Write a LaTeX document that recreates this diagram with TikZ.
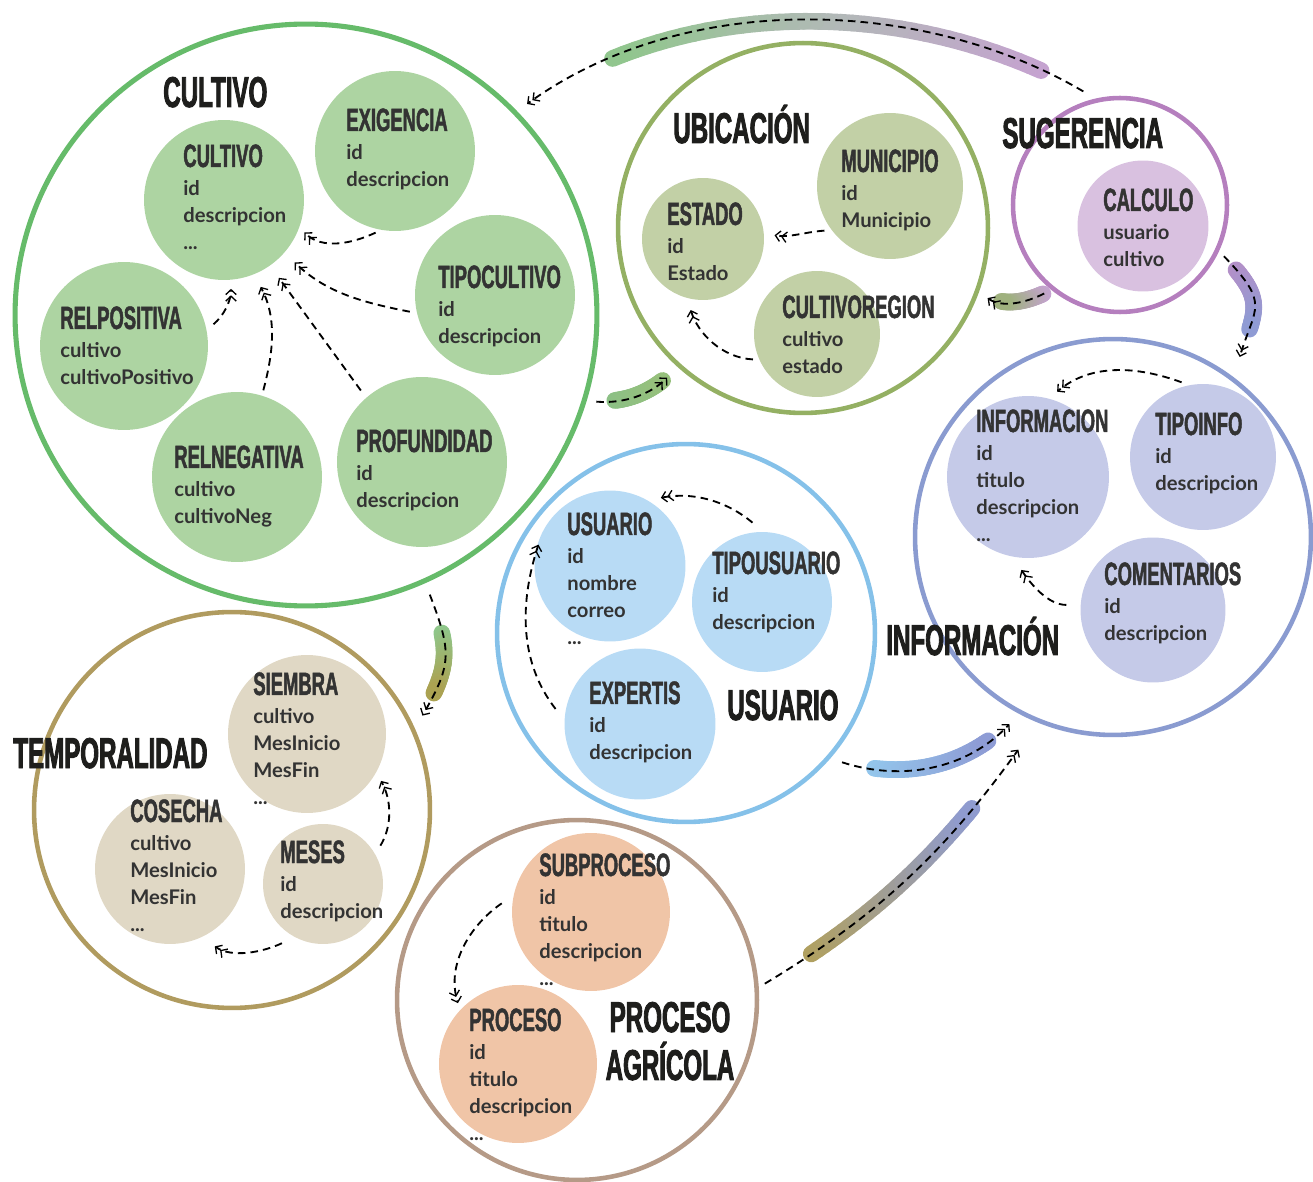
\documentclass[tikz,border=0pt]{standalone}
\usepackage{fontspec}
\setmainfont{Lato}
\newfontfamily\condf{Liberation Sans}[FakeStretch=0.57,FakeBold=1.4]
\newfontfamily\condt{Liberation Sans}[FakeStretch=0.56,FakeBold=2]
\usetikzlibrary{arrows.meta,decorations.markings}
\definecolor{cCul}{HTML}{66BB6A}\definecolor{fCul}{HTML}{ADD4A2}
\definecolor{cUbi}{HTML}{94B063}\definecolor{fUbi}{HTML}{C2D0A6}
\definecolor{cSug}{HTML}{B57FBE}\definecolor{fSug}{HTML}{D9C1E0}
\definecolor{cInf}{HTML}{8A9BD0}\definecolor{fInf}{HTML}{C5CAE8}
\definecolor{cUsu}{HTML}{85C1E9}\definecolor{fUsu}{HTML}{B8DBF5}
\definecolor{cTem}{HTML}{B09B5F}\definecolor{fTem}{HTML}{E0D8C5}
\definecolor{cPro}{HTML}{B59A87}\definecolor{fPro}{HTML}{F0C5A7}
\definecolor{textc}{HTML}{333333}\definecolor{titlec}{HTML}{1E1E1C}
\definecolor{bGreen}{HTML}{8FC78B}\definecolor{bGray}{HTML}{B1B9B6}
\definecolor{bPurple}{HTML}{C5A3D0}\definecolor{bOlive}{HTML}{9DB27B}
\definecolor{bLav}{HTML}{B390C8}\definecolor{bBlue}{HTML}{8E9BD4}
\definecolor{bLightBlue}{HTML}{93C6EC}\definecolor{bKhaki}{HTML}{ADA04F}
\definecolor{bGreenB}{HTML}{8CC085}\definecolor{bGreenC}{HTML}{96C07C}
\definecolor{bKhakiB}{HTML}{B0A060}
\newcommand{\ttl}{\condt\bfseries\fontsize{24.5}{26}\selectfont}
\newcommand{\hd}{\condf\bfseries\fontsize{18.4}{20}\selectfont}
\newcommand{\bodyf}{\bfseries\fontsize{11.5}{15.25}\selectfont}
\newcommand{\fld}[1]{\hbox{#1}}
\newcommand{\blk}[2]{\vtop{\baselineskip=15.25pt\hbox{\hd #1}\vskip1.25pt #2}}
\newcommand{\brush}[5]{%
  \pgfmathtruncatemacro{\brlast}{#3-1}%
  \foreach \bi in {#2,...,\brlast}{%
    \pgfmathtruncatemacro{\bj}{\bi+1}%
    \pgfmathtruncatemacro{\bp}{round(100*(#3-\bi)/(#3-#2))}%
    \draw[brushl, draw=#4!\bp!#5] (#1\bi) -- (#1\bj);
  }}
\begin{document}
\begin{tikzpicture}[x=0.02cm,y=-0.02cm,
  grp/.style={circle, inner sep=0pt, line width=2.6pt},
  item/.style={circle, inner sep=0pt},
  txt/.style={anchor=base west, inner sep=0pt, text=textc, font=\bodyf},
  ttlnode/.style={anchor=base west, inner sep=0pt, text=titlec, font=\ttl},
  link/.style={draw=black, line width=1.05pt, dash pattern=on 4.3pt off 2.9pt,
    -{Straight Barb[length=2.8pt,width=6pt,line width=0.75pt]Straight Barb[length=2.8pt,width=6pt,line width=0.75pt]}},
  brushl/.style={line width=9.5pt, line cap=round},
  markpath/.style={decorate, decoration={markings, mark=between positions 0 and 1 step 0.02 with {\coordinate (#1\pgfkeysvalueof{/pgf/decoration/mark info/sequence number});}}}
]
\useasboundingbox (0,0) rectangle (1313,1182);

% group circles
\node[grp, draw=cCul, line width=2.9pt, minimum size=11.64cm] (gCul) at (306,315) {};
\node[grp, draw=cUbi, minimum size=7.4cm] (gUbi) at (803,228) {};
\node[grp, draw=cSug, minimum size=4.28cm] (gSug) at (1120,205) {};
\node[grp, draw=cInf, minimum size=7.92cm] (gInf) at (1113,537) {};
\node[grp, draw=cUsu, minimum size=7.56cm] (gUsu) at (686,633) {};
\node[grp, draw=cTem, minimum size=7.92cm] (gTem) at (232,810) {};
\node[grp, draw=cPro, minimum size=7.2cm] (gPro) at (577,1000) {};

% inner circles
\node[item, fill=fCul, minimum size=3.2cm] (nCul) at (224,200) {};
\node[item, fill=fCul, minimum size=3.2cm] (nExi) at (395,151) {};
\node[item, fill=fCul, minimum size=3.2cm] (nTip) at (495,295) {};
\node[item, fill=fCul, minimum size=3.36cm] (nRpo) at (124,346) {};
\node[item, fill=fCul, minimum size=3.4cm] (nRne) at (237,477) {};
\node[item, fill=fCul, minimum size=3.4cm] (nPro) at (422,462) {};
\node[item, fill=fUbi, minimum size=2.92cm] (nMun) at (890,186) {};
\node[item, fill=fUbi, minimum size=2.44cm] (nEst) at (703,239) {};
\node[item, fill=fUbi, minimum size=2.52cm] (nCre) at (817,334) {};
\node[item, fill=fSug, minimum size=2.62cm] (nCal) at (1143,226) {};
\node[item, fill=fInf, minimum size=3.24cm] (nInf) at (1028,477) {};
\node[item, fill=fInf, minimum size=2.92cm] (nTin) at (1203,457) {};
\node[item, fill=fInf, minimum size=2.9cm] (nCom) at (1153,610) {};
\node[item, fill=fUsu, minimum size=3.02cm] (nUsu) at (610,566) {};
\node[item, fill=fUsu, minimum size=2.8cm] (nTus) at (762,602) {};
\node[item, fill=fUsu, minimum size=3.02cm] (nExp) at (640,724) {};
\node[item, fill=fTem, minimum size=3.16cm] (nSie) at (307,734) {};
\node[item, fill=fTem, minimum size=3.0cm] (nCos) at (170,869) {};
\node[item, fill=fTem, minimum size=2.4cm] (nMes) at (323,884) {};
\node[item, fill=fPro, minimum size=3.16cm] (nSub) at (591,912) {};
\node[item, fill=fPro, minimum size=3.16cm] (nPrc) at (518,1064) {};

% inter-group paths (invisible, for brush positions)
\path[markpath=A] (gSug.103) .. controls (923,-3) and (685,-10) .. (gCul.44);
\path[markpath=B] (gCul.-17) to[out=-5,in=225] (gUbi.228);
\path[markpath=C] (gSug.231) to[out=207,in=-35] (gUbi.-20);
\path[markpath=D] (gSug.-25) to[out=-46,in=73,looseness=1.5] (gInf.53);
\path[markpath=E] (gCul.-66) to[out=-69,in=60,looseness=1.3] (gTem.24);
\path[markpath=F] (gUsu.-41) to[out=-18,in=227] (gInf.242);
\path[markpath=G] (gPro.4) to[out=31,in=234] (gInf.248);

% brushes
\brush{A}{6}{24}{bPurple}{bGray}
\brush{A}{24}{42}{bGray}{bGreen}
\brush{B}{15}{41}{bGreenB}{bGreenC}
\brush{C}{7}{35}{bPurple}{bOlive}
\brush{D}{10}{33}{bLav}{bBlue}
\brush{E}{18}{38}{bGreen}{bKhaki}
\brush{F}{12}{41}{bLightBlue}{bBlue}
\brush{G}{9}{37}{bKhakiB}{bBlue}

% inter-group connectors
\draw[link, shorten <=8pt, shorten >=7pt] (gSug.103) .. controls (923,-3) and (685,-10) .. (gCul.44);
\draw[link, shorten <=5.5pt, shorten >=8.5pt] (gCul.-17) to[out=-5,in=225] (gUbi.228);
\draw[link, shorten <=4.5pt, shorten >=6pt] (gSug.231) to[out=207,in=-35] (gUbi.-20);
\draw[link, shorten <=4pt, shorten >=12pt] (gSug.-25) to[out=-46,in=73,looseness=1.5] (gInf.53);
\draw[link, shorten <=7pt, shorten >=8.5pt] (gCul.-66) to[out=-69,in=60,looseness=1.3] (gTem.24);
\draw[link, shorten <=7pt, shorten >=8pt] (gUsu.-41) to[out=-18,in=227] (gInf.242);
\draw[link, shorten <=4pt, shorten >=19pt] (gPro.4) to[out=31,in=234] (gInf.248);

% internal connectors
\draw[link, shorten <=3.4pt, shorten >=4pt] (nExi.260) to[out=205,in=-45] (nCul.-20);
\draw[link, shorten <=4pt, shorten >=8pt] (nTip.193) to[out=169,in=-44] (nCul.-41);
\draw[link, shorten <=5pt, shorten >=8.5pt] (nPro.131) -- (nCul.-55);
\draw[link, shorten <=3pt, shorten >=8pt] (nRne.73) to[out=75,in=-62] (nCul.-68);
\draw[link, shorten <=5pt, shorten >=5pt] (nRpo.11) to[out=40,in=-90] (nCul.-85);
\draw[link, shorten <=4pt, shorten >=6pt] (nMun.217) to[out=184,in=-9] (nEst.5);
\draw[link, shorten <=3.5pt, shorten >=7pt] (nCre.204) to[out=177,in=-73] (nEst.255);
\draw[link, shorten <=8pt, shorten >=9pt] (nCom.176) to[out=180,in=-56] (nInf.259);
\draw[link, shorten <=4.5pt, shorten >=6pt] (nTin.101) to[out=160,in=40] (nInf.75);
\draw[link, shorten <=8pt, shorten >=7.5pt] (nTus.89) to[out=140,in=11] (nUsu.60);
\draw[link, shorten <=8pt, shorten >=8.5pt] (nExp.177) to[out=128,in=-108] (nUsu.152);
\draw[link, shorten <=5.5pt, shorten >=5.5pt] (nMes.30) to[out=58,in=-61] (nSie.-29);
\draw[link, shorten <=8pt, shorten >=9pt] (nMes.242) to[out=205,in=-35] (nCos.-65);
\draw[link, shorten <=8pt, shorten >=4pt] (nSub.168) to[out=214,in=107] (nPrc.137);

% item texts
\node[txt] (xCul) at (183,167) {\blk{CULTIVO}{\fld{id}\fld{descripcion}\fld{...}}};
\node[txt] (xExi) at (346,131) {\blk{EXIGENCIA}{\fld{id}\fld{descripcion}}};
\node[txt] (xTip) at (438,288) {\blk{TIPOCULTIVO}{\fld{id}\fld{descripcion}}};
\node[txt] (xRpo) at (60,329) {\blk{RELPOSITIVA}{\fld{cultivo}\fld{cultivoPositivo}}};
\node[txt] (xRne) at (174,468) {\blk{RELNEGATIVA}{\fld{cultivo}\fld{cultivoNeg}}};
\node[txt] (xPro) at (356,452) {\blk{PROFUNDIDAD}{\fld{id}\fld{descripcion}}};
\node[txt] (xMun) at (841,172) {\blk{MUNICIPIO}{\fld{id}\fld{Municipio}}};
\node[txt] (xEst) at (667,225) {\blk{ESTADO}{\fld{id}\fld{Estado}}};
\node[txt] (xCre) at (782,318) {\blk{CULTIVOREGION}{\fld{cultivo}\fld{estado}}};
\node[txt] (xCal) at (1103,211) {\blk{CALCULO}{\fld{usuario}\fld{cultivo}}};
\node[txt] (xInf) at (976,432) {\blk{INFORMACION}{\fld{id}\fld{titulo}\fld{descripcion}\fld{...}}};
\node[txt] (xTin) at (1155,435) {\blk{TIPOINFO}{\fld{id}\fld{descripcion}}};
\node[txt] (xCom) at (1104,585) {\blk{COMENTARIOS}{\fld{id}\fld{descripcion}}};
\node[txt] (xUsu) at (567,535) {\blk{USUARIO}{\fld{id}\fld{nombre}\fld{correo}\fld{...}}};
\node[txt] (xTus) at (712,574) {\blk{TIPOUSUARIO}{\fld{id}\fld{descripcion}}};
\node[txt] (xExp) at (589,704) {\blk{EXPERTIS}{\fld{id}\fld{descripcion}}};
\node[txt] (xSie) at (253,695) {\blk{SIEMBRA}{\fld{cultivo}\fld{MesInicio}\fld{MesFin}\fld{...}}};
\node[txt] (xCos) at (130,822) {\blk{COSECHA}{\fld{cultivo}\fld{MesInicio}\fld{MesFin}\fld{...}}};
\node[txt] (xMes) at (280,863) {\blk{MESES}{\fld{id}\fld{descripcion}}};
\node[txt] (xSub) at (539,876) {\blk{SUBPROCESO}{\fld{id}\fld{titulo}\fld{descripcion}\fld{...}}};
\node[txt] (xPrc) at (469,1031) {\blk{PROCESO}{\fld{id}\fld{titulo}\fld{descripcion}\fld{...}}};

% group titles
\node[ttlnode] (tCul) at (163,107) {CULTIVO};
\node[ttlnode] (tUbi) at (673,143) {UBICACIÓN};
\node[ttlnode] (tSug) at (1002,148) {SUGERENCIA};
\node[ttlnode] (tInf) at (886,655) {INFORMACIÓN};
\node[ttlnode] (tUsu) at (727,720) {USUARIO};
\node[ttlnode] (tTem) at (13,768) {TEMPORALIDAD};
\node[ttlnode, anchor=base] (tPro) at (670,1032) {\vtop{\baselineskip=27.3pt\hbox to 0pt{\hss PROCESO\hss}\hbox to 0pt{\hss AGRÍCOLA\hss}}};
\end{tikzpicture}
\end{document}
